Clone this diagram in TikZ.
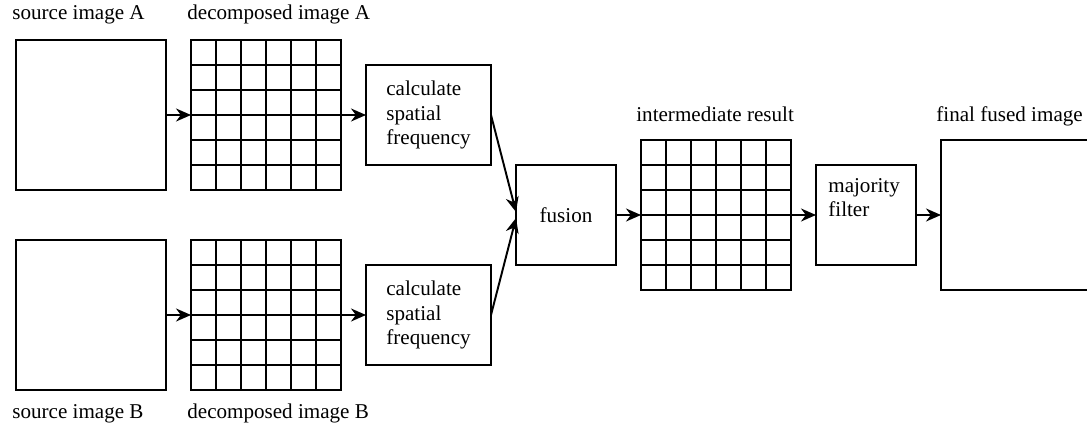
\documentclass[tikz,border=0pt]{standalone}
\usepackage{fontspec}
\setmainfont{Liberation Serif}
\usetikzlibrary{arrows.meta, positioning}

\begin{document}
\begin{tikzpicture}[
  img/.style={rectangle, draw, line width=1.1pt, minimum size=3cm, inner sep=0pt, outer sep=0pt},
  proc/.style={rectangle, draw, line width=1.1pt, minimum width=2.5cm, minimum height=2cm,
    outer sep=0pt, align=left, font=\fontsize{12}{13.8}\selectfont},
  edge/.style={-{Stealth[length=3mm, width=2.6mm]}, line width=1.1pt},
  lbl/.style={font=\fontsize{12}{14}\selectfont, anchor=base west, inner sep=0pt},
  node distance=5mm
]
\useasboundingbox (0,0) rectangle (21.74,-8.58);

% upper row
\node[img] (srcA) at (1.82,-2.3) {};
\node[img, right=of srcA] (decA) {};
\node[proc, right=of decA] (sfA) {calculate\\spatial\\frequency};

% lower row
\node[img, below=1cm of srcA] (srcB) {};
\node[img, right=of srcB] (decB) {};
\node[proc, right=of decB] (sfB) {calculate\\spatial\\frequency};

% fusion and after
\node[proc, minimum width=2cm, align=center, below right=0mm and 5mm of sfA] (fus) {fusion};
\node[img, right=of fus] (inter) {};
\node[proc, minimum width=2cm, right=of inter] (maj) {};
\node[lbl, align=left, anchor=north west] (majtxt) at ([shift={(0.24,-0.26)}]maj.north west) {majority\\filter};
\node[img, right=of maj] (final) {};

% grids
\foreach \g in {decA, decB, inter}
  \draw[line width=1.1pt, shift={(\g.south west)}] (0,0) grid[step=0.5] (3,3);

% labels
\node[lbl] (lsrcA) at ([shift={(-0.08,0.4)}]srcA.north west) {source image A};
\node[lbl] (ldecA) at ([shift={(-0.08,0.4)}]decA.north west) {decomposed image A};
\node[lbl] (lsrcB) at ([shift={(-0.08,-0.56)}]srcB.south west) {source image B};
\node[lbl] (ldecB) at ([shift={(-0.08,-0.56)}]decB.south west) {decomposed image B};
\node[lbl] (linter) at ([shift={(-0.1,0.36)}]inter.north west) {intermediate result};
\node[lbl] (lfinal) at ([shift={(-0.1,0.36)}]final.north west) {final fused image};

% connections
\draw[edge] (srcA) -- (decA);
\draw[edge] (decA) -- (sfA);
\draw[edge] (srcB) -- (decB);
\draw[edge] (decB) -- (sfB);
\draw[edge] (sfA.east) -- ([yshift=0.06cm]fus.west);
\draw[edge] (sfB.east) -- ([yshift=-0.06cm]fus.west);
\draw[edge] (fus) -- (inter);
\draw[edge] (inter) -- (maj);
\draw[edge] (maj) -- (final);
\end{tikzpicture}
\end{document}
